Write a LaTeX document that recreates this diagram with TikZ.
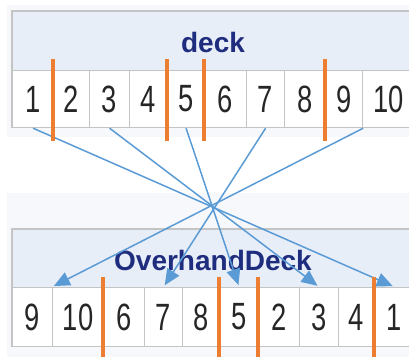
\documentclass[tikz,border=0pt]{standalone}
\usepackage{fontspec}
\setmainfont{Liberation Sans}
\newfontfamily\cardfont[FakeStretch=0.72]{Liberation Sans}
\usepackage{tikz}
\usetikzlibrary{arrows.meta}
\definecolor{haze}{HTML}{F6F8FC}
\definecolor{panelfill}{HTML}{E8EEF7}
\definecolor{panelline}{HTML}{C4C4C4}
\definecolor{titleblue}{HTML}{1F2D7E}
\definecolor{cardtext}{HTML}{262626}
\definecolor{moveblue}{HTML}{5B9BD5}
\definecolor{cutorange}{HTML}{ED7D31}

\begin{document}
\begin{tikzpicture}[x=1pt,y=-1pt,
  panel/.style={draw=panelline,line width=1.5pt,fill=panelfill},
  card/.style={draw=panelline,line width=1.2pt,fill=white,anchor=north west,inner sep=0pt,
    font=\cardfont\fontsize{38}{38}\selectfont,text=cardtext},
  title/.style={font=\bfseries\fontsize{28}{28}\selectfont,text=titleblue,anchor=base},
  cut/.style={draw=cutorange,line width=4pt},
  move/.style={draw=moveblue,line width=1.5pt,shorten >=2pt,-{Triangle[length=16pt,width=14pt]}}]
\useasboundingbox (0,0) rectangle (409,356);
\clip (0,0) rectangle (409,356);
\fill[haze] (7,5) rectangle (420,137); %
\fill[haze] (7,193) rectangle (420,360); %
\draw[panel] (12,11) rectangle (414,127);
\draw[panel] (12,229) rectangle (414,346);
\node[title] (decktitle) at (213,52) {deck};
\node[title] (overtitle) at (213,270) {OverhandDeck};
\foreach \x/\w/\n in {12/41/1,53/36/2,89/40/3,129/38/4,167/37/5,204/42/6,246/38/7,284/41/8,325/37/9,362/52/10}
  \node[card,minimum width=\w pt,minimum height=57pt] (top\n) at (\x,70) {\n};
\foreach \x/\w/\n in {12/40/9,52/51/10,103/41/6,144/38/7,182/37/8,219/39/5,258/41/2,299/39/3,338/36/4,374/40/1}
  \node[card,minimum width=\w pt,minimum height=59pt] (bot\n) at (\x,287) {\n};
\draw[move] (top1.south) -- (bot1.north);
\draw[move] (top3.south) -- (bot3.north);
\draw[move] (top5.south) -- (bot5.north);
\draw[move] (top7.south) -- (bot7.north);
\draw[move] (top9.south east) -- (bot10.north west);
\foreach \x in {53,167,204,325} \draw[cut] (\x,59) -- (\x,141);
\foreach \x in {103,219,258,374} \draw[cut] (\x,277) -- (\x,360);
\end{tikzpicture}
\end{document}
